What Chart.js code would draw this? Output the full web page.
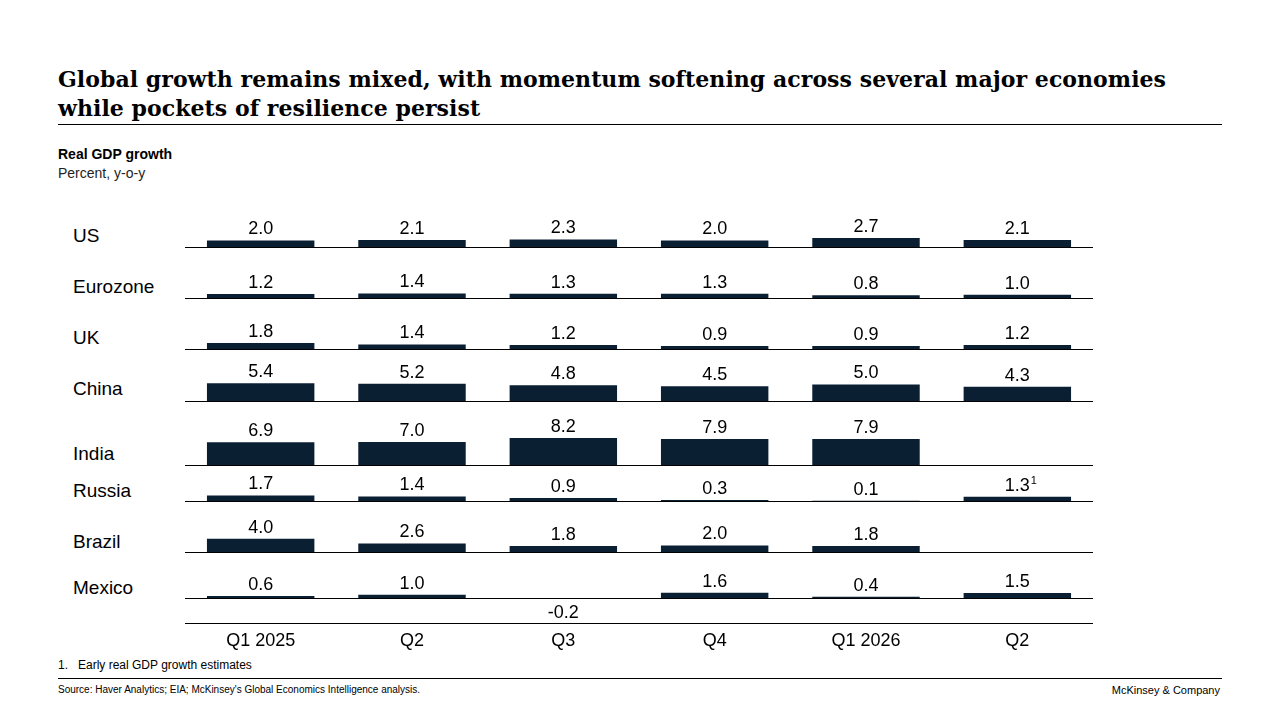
<!DOCTYPE html>
<html><head><meta charset="utf-8">
<script src="https://cdn.jsdelivr.net/npm/chart.js@4"></script>
<style>
body{margin:0;width:1280px;height:720px;background:#fff;font-family:Arial,"Liberation Sans",sans-serif;position:relative;overflow:hidden}
.abs{position:absolute}
.title{left:58px;top:65px;font-family:"DejaVu Serif",serif;font-weight:bold;font-size:22px;line-height:29px;color:#000;letter-spacing:0.05px}
.rl{left:73px;font-size:19px;color:#000;transform:translateY(-50%)}
canvas{position:absolute}
</style></head><body>
<div class="abs title">Global growth remains mixed, with momentum softening across several major economies<br>while pockets of resilience persist</div>
<div class="abs" style="left:58px;top:124px;width:1164px;border-top:1px solid #000"></div>
<div class="abs" style="left:58px;top:146px;font-size:14px;font-weight:bold">Real GDP growth</div>
<div class="abs" style="left:58px;top:165px;font-size:14px;color:#222">Percent, y-o-y</div>
<div class="abs" style="left:58px;top:658px;font-size:12px">1.&nbsp;&nbsp;&nbsp;Early real GDP growth estimates</div>
<div class="abs" style="left:58px;top:678px;width:1164px;border-top:1px solid #000"></div>
<div class="abs" style="left:58px;top:684px;font-size:10px">Source: Haver Analytics; EIA; McKinsey's Global Economics Intelligence analysis.</div>
<div class="abs" style="right:60px;top:684px;font-size:11px">McKinsey &amp; Company</div>
<script>
const categories = ["Q1 2025","Q2","Q3","Q4","Q1 2026","Q2"];
const countries = ["US","Eurozone","UK","China","India","Russia","Brazil","Mexico"];
const us       = [2.0,2.1,2.3,2.0,2.7,2.1];
const eurozone = [1.2,1.4,1.3,1.3,0.8,1.0];
const uk       = [1.8,1.4,1.2,0.9,0.9,1.2];
const china    = [5.4,5.2,4.8,4.5,5.0,4.3];
const india    = [6.9,7.0,8.2,7.9,7.9,null];
const russia   = [1.7,1.4,0.9,0.3,0.1,1.3];
const brazil   = [4.0,2.6,1.8,2.0,1.8,null];
const mexico   = [0.6,1.0,-0.2,1.6,0.4,1.5];
const footnoteMarks = {Russia:{5:"1"}};

const series=[us,eurozone,uk,china,india,russia,brazil,mexico];
const baselines=[247,298,349,401,465,501,552,598];
const labelY=[236,287,338,389,454,491,542,588];
const PX=3.3, X0=185, W=908, ABOVE=50, COLOR="#0b1f33";

countries.forEach((c,r)=>{
  const d=document.createElement('div');d.className='abs rl';d.style.top=labelY[r]+'px';d.textContent=c;document.body.appendChild(d);
  const last=r===countries.length-1;
  const below=last?57:1;
  const top=baselines[r]-ABOVE, h=ABOVE+below;
  const cv=document.createElement('canvas');
  cv.width=W;cv.height=h;
  cv.style.left=X0+'px';cv.style.top=top+'px';cv.style.width=W+'px';cv.style.height=h+'px';
  document.body.appendChild(cv);
  const plug={id:'lbl'+r,afterDatasetsDraw(ch){
    const ctx=ch.ctx,ys=ch.scales.y,xs=ch.scales.x,y0=ys.getPixelForValue(0);
    ctx.save();
    ctx.strokeStyle="#000";ctx.lineWidth=1;
    ctx.beginPath();ctx.moveTo(0,Math.round(y0)+0.5);ctx.lineTo(W,Math.round(y0)+0.5);ctx.stroke();
    ctx.font="18px Arial";ctx.fillStyle="#000";ctx.textAlign="center";ctx.textBaseline="middle";
    ch.getDatasetMeta(0).data.forEach((b,i)=>{
      const v=series[r][i]; if(v==null) return;
      const t=v.toFixed(1);
      const y=v>=0?ys.getPixelForValue(v)-11:ys.getPixelForValue(v)+14;
      ctx.fillText(t,b.x,y);
      const fm=footnoteMarks[c]&&footnoteMarks[c][i];
      if(fm){const w=ctx.measureText(t).width;ctx.save();ctx.font="11px Arial";ctx.textAlign="left";ctx.fillText(fm,b.x+w/2+1,y-5);ctx.restore();}
    });
    if(last){
      const yb=y0+25;
      ctx.beginPath();ctx.moveTo(0,Math.round(yb)+0.5);ctx.lineTo(W,Math.round(yb)+0.5);ctx.stroke();
      categories.forEach((cat,i)=>ctx.fillText(cat,xs.getPixelForValue(i),yb+18));
    }
    ctx.restore();
  }};
  new Chart(cv,{type:'bar',data:{labels:categories,datasets:[{data:series[r],backgroundColor:COLOR,barPercentage:0.71,categoryPercentage:1}]},
    options:{responsive:false,animation:false,devicePixelRatio:1,layout:{padding:0},
      plugins:{legend:{display:false},tooltip:{enabled:false}},
      scales:{x:{display:false},y:{display:false,min:-below/PX,max:ABOVE/PX}}},
    plugins:[plug]});
});
</script>
</body></html>
